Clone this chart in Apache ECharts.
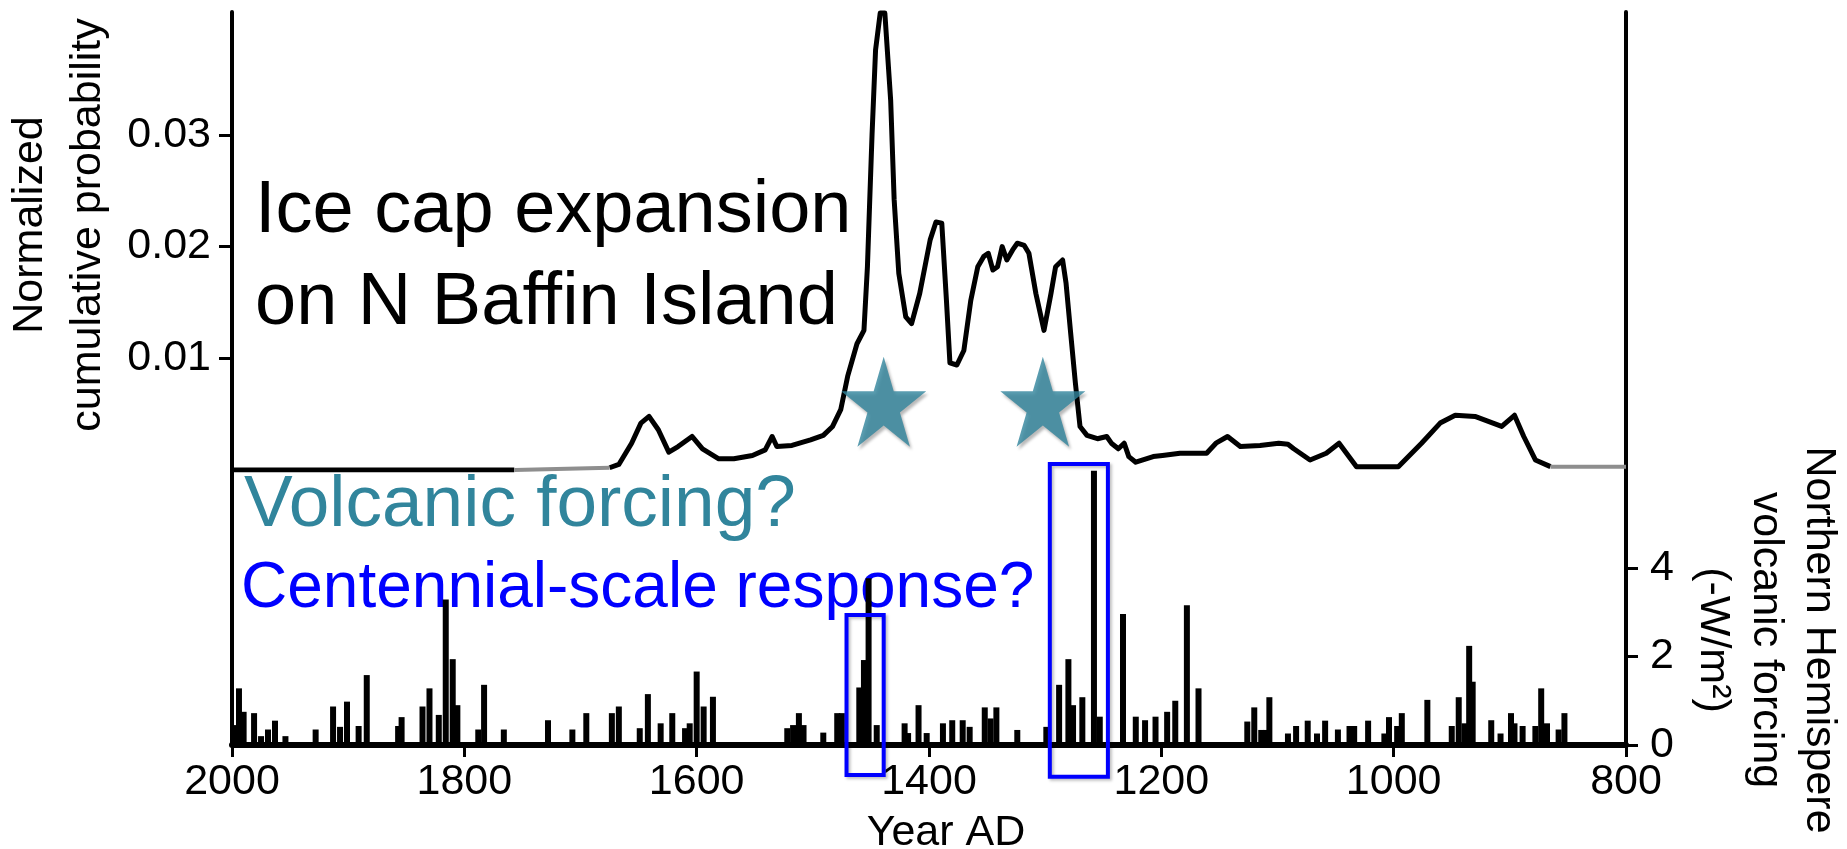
<!DOCTYPE html>
<html>
<head>
<meta charset="utf-8">
<script src="https://cdn.jsdelivr.net/npm/echarts@6/dist/echarts.min.js"></script>
<style>
html,body{margin:0;padding:0;background:#ffffff;}
#chart{width:1847px;height:849px;}
</style>
</head>
<body>
<div id="chart"></div>
<script>
// ---------------- DATA ----------------
const yearTicks = [2000, 1800, 1600, 1400, 1200, 1000, 800];
const probTicks = [0.01, 0.02, 0.03];
const forcingTicks = [0, 2, 4];

// Normalized cumulative probability of ice cap expansion (null = break)
const probYears = [2000, 1757, 1757,
  1675, 1667, 1656, 1648, 1641, 1633, 1624, 1616, 1604, 1595, 1581, 1568, 1552, 1541, 1535, 1531,
  1518, 1502, 1491, 1483, 1476, 1470, 1462, 1456, 1453, 1451, 1449, 1446, 1442, 1438, 1433, 1430,
  1426, 1420, 1415, 1408, 1399, 1394, 1389, 1385, 1382, 1376, 1370, 1364, 1358, 1353, 1349, 1345,
  1341, 1337, 1333, 1328, 1324, 1318, 1314, 1308, 1301, 1295, 1291, 1285, 1282, 1278, 1274, 1270,
  1264, 1255, 1247, 1243, 1237, 1232, 1228, 1222, 1207, 1199, 1184, 1161, 1153, 1143, 1132, 1115,
  1099, 1091, 1086, 1072, 1058, 1047, 1032, 996, 976, 960, 947, 930, 907, 896, 888, 878, 865];
const probValues = [0, 0, null,
  0.0002, 0.0005, 0.0024, 0.0042, 0.0048, 0.0036, 0.0016, 0.0021, 0.0030, 0.0019, 0.0010, 0.0010, 0.0013, 0.0018, 0.0030, 0.0021,
  0.0022, 0.0027, 0.0031, 0.0039, 0.0054, 0.0084, 0.0113, 0.0125, 0.0182, 0.0242, 0.0301, 0.0376, 0.0409, 0.0409, 0.0331, 0.0242,
  0.0176, 0.0137, 0.0131, 0.0158, 0.0206, 0.0222, 0.0221, 0.0152, 0.0096, 0.0094, 0.0107, 0.0152, 0.0182, 0.0191, 0.0194, 0.0179,
  0.0182, 0.0200, 0.0188, 0.0197, 0.0203, 0.0201, 0.0194, 0.0158, 0.0125, 0.0158, 0.0182, 0.0188, 0.0167, 0.0122, 0.0078, 0.0039,
  0.0031, 0.0028, 0.0030, 0.0024, 0.0019, 0.0024, 0.0012, 0.0007, 0.0012, 0.0013, 0.0015, 0.0015, 0.0024, 0.0030, 0.0021, 0.0022,
  0.0024, 0.0023, 0.0019, 0.0009, 0.0015, 0.0024, 0.0003, 0.0003, 0.0024, 0.0042, 0.0049, 0.0048, 0.0039, 0.0049, 0.0030, 0.0009, 0.0003];
// faint (grey) flat stretches of the same curve
const fadedYears = [1757, 1675, null, 865, 800];
const fadedValues = [0, 0.0002, null, 0.0003, 0.0003];

// Northern Hemisphere volcanic forcing (-W/m2)
const forcingYears = [1997, 1994, 1990, 1981, 1975, 1969, 1963, 1954, 1928, 1913, 1907, 1901, 1891, 1884, 1857, 1854,
  1836, 1830, 1822, 1816, 1810, 1806, 1788, 1783, 1766, 1728, 1707, 1695, 1673, 1667, 1649, 1642, 1631, 1621,
  1610, 1606, 1600, 1594, 1586, 1522, 1517, 1512, 1508, 1491, 1479, 1475, 1460, 1456, 1452, 1445, 1421, 1418,
  1409, 1402, 1388, 1380, 1371, 1365, 1352, 1347, 1342, 1324, 1299, 1288, 1280, 1276, 1268, 1258, 1253, 1233,
  1222, 1214, 1205, 1195, 1188, 1178, 1168, 1126, 1120, 1114, 1110, 1107, 1091, 1084, 1074, 1066, 1059, 1048,
  1038, 1034, 1022, 1008, 1004, 997, 993, 971, 950, 944, 939, 935, 932, 916, 908, 899, 896, 889, 878, 873, 868, 858, 853];
const forcingValues = [0.45, 1.28, 0.75, 0.72, 0.20, 0.35, 0.55, 0.20, 0.35, 0.87, 0.41, 0.98, 0.43, 1.58, 0.43, 0.63,
  0.87, 1.28, 0.68, 3.29, 1.94, 0.90, 0.35, 1.36, 0.35, 0.56, 0.35, 0.72, 0.72, 0.87, 0.38, 1.15, 0.49, 0.72,
  0.38, 0.49, 1.66, 0.87, 1.09, 0.38, 0.45, 0.72, 0.45, 0.28, 0.72, 0.72, 1.30, 1.92, 3.77, 0.45, 0.49, 0.27,
  0.90, 0.27, 0.49, 0.56, 0.56, 0.41, 0.85, 0.60, 0.85, 0.34, 0.41, 1.36, 1.94, 0.90, 1.08, 6.20, 0.64, 2.96,
  0.64, 0.56, 0.64, 0.75, 1.00, 3.16, 1.28, 0.53, 0.85, 0.34, 0.34, 1.08, 0.26, 0.43, 0.55, 0.26, 0.55, 0.35,
  0.43, 0.43, 0.55, 0.26, 0.63, 0.43, 0.72, 1.02, 0.43, 1.08, 0.49, 2.24, 1.43, 0.56, 0.26, 0.72, 0.49, 0.43, 0.43, 1.28, 0.49, 0.35, 0.72];

// star markers (year, level on probability axis)
const starYears = [1439, 1302];
const starLevel = 0.0061;

// highlight boxes: [year from, year to, forcing top, forcing bottom]
const boxYearsFrom = [1471, 1296];
const boxYearsTo = [1439, 1246];
const boxTop = [2.94, 6.35];
const boxBottom = [-0.68, -0.72];

// ---------------- CHART ----------------
const FONT = '"Liberation Sans", Arial, Helvetica, sans-serif';
const TEAL = '#31859C';
const STAR = 'path://M50,0 L61.23,34.55 L97.55,34.55 L68.16,55.9 L79.39,90.45 L50,69.1 L20.61,90.45 L31.84,55.9 L2.45,34.55 L38.77,34.55 Z';

const pair = (xs, ys) => xs.map((x, i) => (x === null || ys[i] === null) ? [x === null ? xs[i - 1] : x, null] : [x, ys[i]]);

const chart = echarts.init(document.getElementById('chart'), null, {renderer: 'canvas'});

const option = {
  backgroundColor: '#ffffff',
  animation: false,
  grid: [
    {left: 232, right: 221, top: 12, height: 458, outerBoundsMode: 'none', containLabel: false},
    {left: 232, right: 221, top: 470, height: 275, outerBoundsMode: 'none', containLabel: false}
  ],
  xAxis: [
    {type: 'value', gridIndex: 0, min: 800, max: 2000, inverse: true, show: false},
    {
      type: 'value', gridIndex: 1, min: 800, max: 2000, interval: 200, inverse: true,
      axisLine: {onZero: false, lineStyle: {color: '#000', width: 6}},
      axisTick: {inside: false, length: 12, lineStyle: {color: '#000', width: 3}},
      axisLabel: {color: '#000', fontFamily: FONT, fontSize: 43, lineHeight: 43, margin: 16,
        customValues: yearTicks, formatter: v => String(v)},
      splitLine: {show: false},
      name: 'Year AD', nameLocation: 'middle', nameGap: 67,
      nameTextStyle: {color: '#000', fontFamily: FONT, fontSize: 43, lineHeight: 43, padding: [0, 0, 0, 34]}
    }
  ],
  yAxis: [
    {
      type: 'value', gridIndex: 0, position: 'left', min: 0, max: 0.041,
      axisLine: {show: true, lineStyle: {color: '#000', width: 4}},
      axisTick: {show: true, inside: false, length: 13, lineStyle: {color: '#000', width: 3}, customValues: probTicks},
      axisLabel: {color: '#000', fontFamily: FONT, fontSize: 43, lineHeight: 43, margin: 21,
        padding: [0, 0, 8, 0], customValues: probTicks, formatter: v => v.toFixed(2)},
      splitLine: {show: false}
    },
    {
      type: 'value', gridIndex: 0, position: 'right', min: 0, max: 1,
      axisLine: {show: true, lineStyle: {color: '#000', width: 4}},
      axisTick: {show: false}, axisLabel: {show: false}, splitLine: {show: false}
    },
    {
      type: 'value', gridIndex: 1, position: 'right', min: 0, max: 275 / 44.25,
      axisLine: {show: true, onZero: false, lineStyle: {color: '#000', width: 4}},
      axisTick: {show: true, inside: false, length: 12, lineStyle: {color: '#000', width: 3}, customValues: forcingTicks},
      axisLabel: {color: '#000', fontFamily: FONT, fontSize: 43, lineHeight: 43, margin: 24,
        padding: [0, 0, 8, 0], customValues: forcingTicks},
      splitLine: {show: false}
    },
    {
      type: 'value', gridIndex: 1, position: 'left', min: 0, max: 1,
      axisLine: {show: true, onZero: false, lineStyle: {color: '#000', width: 4}},
      axisTick: {show: false}, axisLabel: {show: false}, splitLine: {show: false}
    }
  ],
  series: [
    {
      name: 'probability', type: 'line', xAxisIndex: 0, yAxisIndex: 0,
      data: pair(probYears, probValues), symbol: 'none', connectNulls: false,
      lineStyle: {color: '#000', width: 5, join: 'round'}, z: 3
    },
    {
      name: 'probability faded', type: 'line', xAxisIndex: 0, yAxisIndex: 0,
      data: pair(fadedYears, fadedValues), symbol: 'none', connectNulls: false,
      lineStyle: {color: '#8e8e8e', width: 4}, z: 3
    },
    {
      name: 'forcing', type: 'bar', xAxisIndex: 1, yAxisIndex: 2,
      data: forcingYears.map((y, i) => [y, forcingValues[i]]),
      barWidth: 6, itemStyle: {color: '#000'}, z: 3
    },
    {
      name: 'stars', type: 'scatter', xAxisIndex: 0, yAxisIndex: 0,
      data: starYears.map(y => [y, starLevel]),
      symbol: STAR, symbolSize: [85, 90], symbolKeepAspect: false,
      itemStyle: {color: TEAL, shadowColor: 'rgba(0,0,0,0.35)', shadowBlur: 3, shadowOffsetX: 2, shadowOffsetY: 3},
      z: 5
    },
    {
      name: 'boxes', type: 'custom', xAxisIndex: 1, yAxisIndex: 2, clip: false,
      data: boxYearsFrom.map((y, i) => [y, boxYearsTo[i], boxTop[i], boxBottom[i]]),
      encode: {x: [0, 1], y: [2, 3]},
      renderItem: function (params, api) {
        const p1 = api.coord([api.value(0), api.value(2)]);
        const p2 = api.coord([api.value(1), api.value(3)]);
        return {
          type: 'rect',
          shape: {x: Math.min(p1[0], p2[0]), y: Math.min(p1[1], p2[1]),
            width: Math.abs(p2[0] - p1[0]), height: Math.abs(p2[1] - p1[1])},
          style: {fill: 'none', stroke: '#0000FF', lineWidth: 4,
            shadowColor: 'rgba(0,0,0,0.25)', shadowBlur: 3, shadowOffsetX: 2, shadowOffsetY: 2}
        };
      },
      z: 6
    }
  ],
  graphic: [
    {type: 'text', x: 59, y: 225, rotation: Math.PI / 2, z: 1,
      style: {text: 'Normalized\ncumulative probability', fill: '#000', font: '43px ' + FONT,
        align: 'center', verticalAlign: 'middle', lineHeight: 58}},
    {type: 'text', x: 1766, y: 640, rotation: -Math.PI / 2, z: 1,
      style: {text: 'Northern Hemispere\nvolcanic forcing\n(-W/m\u00B2)', fill: '#000', font: '43px ' + FONT,
        align: 'center', verticalAlign: 'middle', lineHeight: 53}},
    {type: 'text', x: 255, y: 258, z: 1,
      style: {text: 'Ice cap expansion\non N Baffin Island', fill: '#000', font: '74px ' + FONT,
        align: 'left', verticalAlign: 'middle', lineHeight: 92}},
    {type: 'text', x: 244, y: 506, z: 1,
      style: {text: 'Volcanic forcing?', fill: TEAL, font: '73px ' + FONT,
        align: 'left', verticalAlign: 'middle', lineHeight: 73}},
    {type: 'text', x: 241, y: 589, z: 1,
      style: {text: 'Centennial-scale response?', fill: '#0000FF', font: '64px ' + FONT,
        align: 'left', verticalAlign: 'middle', lineHeight: 64}}
  ]
};
chart.setOption(option);
</script>
</body>
</html>
